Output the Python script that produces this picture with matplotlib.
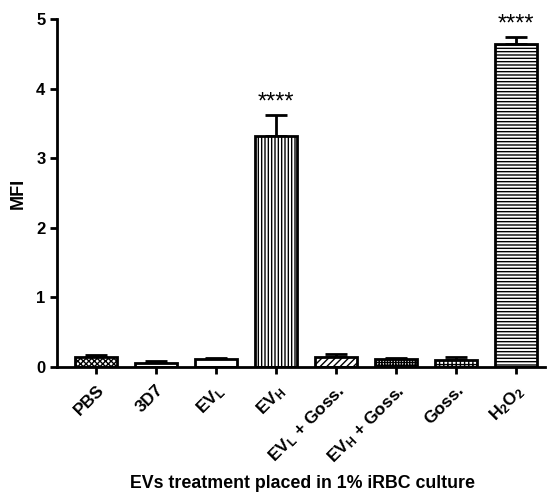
import numpy as np
import matplotlib
matplotlib.use("Agg")
import matplotlib.pyplot as plt

plt.rcParams['font.family'] = ['Liberation Sans', 'DejaVu Sans']
plt.rcParams['font.weight'] = 'bold'
plt.rcParams['mathtext.fontset'] = 'custom'
plt.rcParams['mathtext.rm'] = 'Liberation Sans:bold'
plt.rcParams['mathtext.default'] = 'rm'
plt.rcParams['hatch.linewidth'] = 1.0

labels = ['PBS', '3D7', r'EV$_{L}$', r'EV$_{H}$', r'EV$_{L}$ + Goss.',
          r'EV$_{H}$ + Goss.', 'Goss.', r'H$_{2}$O$_{2}$']
values = [0.14, 0.06, 0.11, 3.32, 0.14, 0.11, 0.10, 4.64]
errors = [0.03, 0.02, 0.02, 0.30, 0.04, 0.02, 0.05, 0.10]
hatches = ['xxxxxx', '--', '==', '|||||', '/////', '++++++', '++++', '-----']
stars = ['', '', '', '****', '', '', '', '****']

fig = plt.figure(figsize=(5.5, 4.98), dpi=100)
ax = fig.add_axes([0.104, 0.263, 0.886, 0.699])

x = np.arange(len(labels))
ax.bar(x, values, width=0.7, color='white', edgecolor='black', linewidth=2,
       hatch=hatches, zorder=2)
ax.errorbar(x, values, yerr=[np.zeros(len(values)), errors], fmt='none',
            ecolor='black', elinewidth=2, capsize=8, capthick=2, zorder=1)
for xi, v, e, s in zip(x, values, errors, stars):
    if s:
        ax.text(xi, v + e + 0.02, s, ha='center', va='bottom', fontsize=17,
                fontweight='normal')

ax.set_xlim(-0.65, 7.48)
ax.set_ylim(0, 5)
ax.set_yticks(range(6))
ax.set_xticks(x)
ax.set_xticklabels(labels, rotation=45, ha='right', rotation_mode='anchor',
                   fontweight='bold')
ax.tick_params(axis='both', width=2, length=5, labelsize=12)
ax.tick_params(axis='x', labelsize=12.5, pad=6)
for t in ax.get_yticklabels():
    t.set_fontweight('bold')
for sp in ['top', 'right']:
    ax.spines[sp].set_visible(False)
for sp in ['left', 'bottom']:
    ax.spines[sp].set_linewidth(2)

ax.set_ylabel('MFI', fontsize=13, fontweight='bold', labelpad=7)
fig.text(0.55, 0.03, 'EVs treatment placed in 1% iRBC culture',
         ha='center', va='center', fontsize=12.8, fontweight='bold')

fig.savefig('out.png', dpi=100)
